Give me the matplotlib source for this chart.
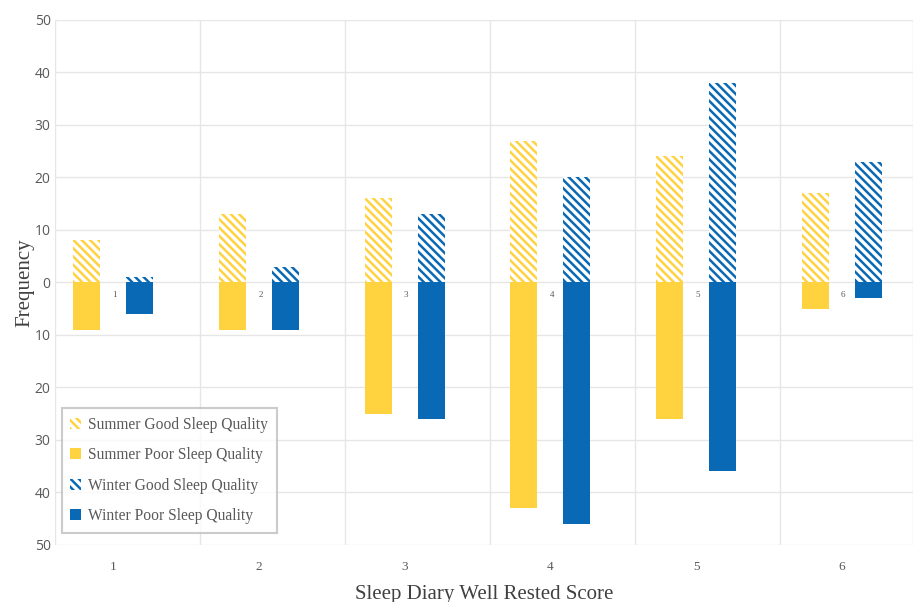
import numpy as np
import matplotlib
matplotlib.use("Agg")
import matplotlib.pyplot as plt
from matplotlib.patches import Patch

# dados
scores = [1, 2, 3, 4, 5, 6]
summer_good = [8, 13, 16, 27, 24, 17]
summer_poor = [9, 9, 25, 43, 26, 5]
winter_good = [1, 3, 13, 20, 38, 23]
winter_poor = [6, 9, 26, 46, 36, 3]

yellow = '#FFD23F'
blue = '#0A69B4'
grid_c = '#E6E6E6'

plt.rcParams['hatch.linewidth'] = 1.8

fig = plt.figure(figsize=(9.15, 6.02), dpi=100)
ax = fig.add_axes([0.060, 0.095, 0.938, 0.872])

x = np.array(scores, dtype=float)
w = 0.185
off = 0.182

# barras positivas (boa qualidade) hachuradas, negativas (má qualidade) sólidas
ax.bar(x - off, summer_good, w, facecolor='white', edgecolor=yellow, hatch='\\\\\\\\', linewidth=0, zorder=3)
ax.bar(x - off, [-v for v in summer_poor], w, color=yellow, linewidth=0, zorder=3)
ax.bar(x + off, winter_good, w, facecolor='white', edgecolor=blue, hatch='\\\\\\\\', linewidth=0, zorder=3)
ax.bar(x + off, [-v for v in winter_poor], w, color=blue, linewidth=0, zorder=3)

# rótulos pequenos das categorias junto ao zero
for xi, s in zip(x, scores):
    ax.text(xi + 0.01, -2.5, str(s), fontsize=6.5, color='#595959', ha='center', va='center',
            family='Liberation Serif', zorder=4)

ax.set_xlim(0.6, 6.49)
ax.set_ylim(-50, 50)

# grade
for yv in range(-50, 51, 10):
    ax.axhline(yv, color=grid_c, lw=1, zorder=1)
for xv in [0.6, 1.595, 2.59, 3.585, 4.58, 5.575, 6.49]:
    ax.axvline(xv, color=grid_c, lw=1, zorder=1)

for s in ax.spines.values():
    s.set_visible(False)

ax.set_yticks(range(-50, 51, 10))
ax.set_yticklabels([str(abs(v)) for v in range(-50, 51, 10)], family='Open Sans', fontsize=10, color='#595959')
ax.set_xticks(x)
ax.set_xticklabels([str(s) for s in scores], family='Liberation Serif', fontsize=9.5, color='#595959')
ax.tick_params(axis='x', length=0, pad=12)
ax.tick_params(axis='y', length=0, pad=3)

ax.set_xlabel('Sleep Diary Well Rested Score', family='Liberation Serif', fontsize=15, color='#404040', labelpad=8)
ax.set_ylabel('Frequency', family='Liberation Serif', fontsize=15, color='#404040', labelpad=0)

handles = [
    Patch(facecolor='white', edgecolor=yellow, hatch='\\\\\\\\', linewidth=0, label='Summer Good Sleep Quality'),
    Patch(facecolor=yellow, label='Summer Poor Sleep Quality'),
    Patch(facecolor='white', edgecolor=blue, hatch='\\\\\\\\', linewidth=0, label='Winter Good Sleep Quality'),
    Patch(facecolor=blue, label='Winter Poor Sleep Quality'),
]
leg = ax.legend(handles=handles, loc='lower left', bbox_to_anchor=(0.008, 0.023), borderaxespad=0,
                prop={'family': 'Liberation Serif', 'size': 11.2}, frameon=True, fancybox=False,
                handlelength=0.7, handleheight=0.7, handletextpad=0.45, labelspacing=0.93,
                borderpad=0.55, labelcolor='#595959')
leg.get_frame().set_edgecolor('#BFBFBF')
leg.get_frame().set_linewidth(1.5)

fig.savefig('out.png', dpi=100)
